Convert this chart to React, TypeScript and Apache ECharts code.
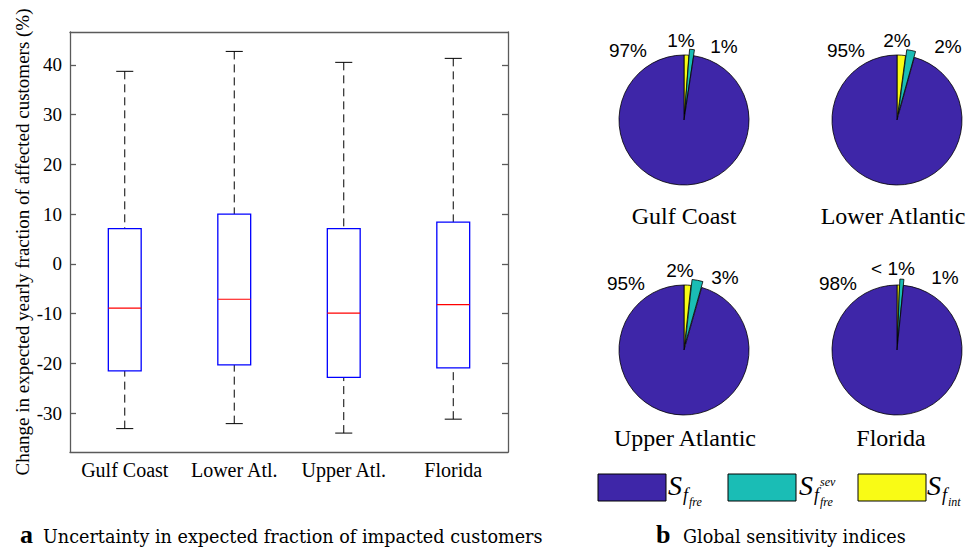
import React, { useEffect, useRef } from "react";
import * as echarts from "echarts";

// ---------- data ----------
const regions = ["Gulf Coast", "Lower Atl.", "Upper Atl.", "Florida"];
const whiskerLow = [-33.1, -32.1, -34.0, -31.2];
const quart1 = [-21.5, -20.3, -22.8, -20.9];
const medians = [-8.9, -7.1, -9.9, -8.2];
const quart3 = [7.1, 10.0, 7.1, 8.4];
const whiskerHigh = [38.7, 42.7, 40.5, 41.3];
const yTicks = [-30, -20, -10, 0, 10, 20, 30, 40];
const yMin = -37.8;
const yMax = 46.6;
const yTitle = "Change in expected yearly fraction of affected customers (%)";

const pieTitles = ["Gulf Coast", "Lower Atlantic", "Upper Atlantic", "Florida"];
const sInt = [1.2, 2.1, 1.7, 0.6];
const sSev = [1.2, 2.2, 2.7, 1.0];
const sFre = [97.6, 95.7, 95.6, 98.4];
const labelFre = ["97%", "95%", "95%", "98%"];
const labelInt = ["1%", "2%", "2%", "< 1%"];
const labelSev = ["1%", "2%", "3%", "1%"];

const captionA = "Uncertainty in expected fraction of impacted customers";
const captionB = "Global sensitivity indices";

// ---------- style / layout ----------
const BLUE = "#3E26A8";
const TEAL = "#1ABDB5";
const YELLOW = "#F9FB15";
const SERIF = "'Liberation Serif', 'Times New Roman', serif";
const SANS = "'Liberation Sans', Arial, sans-serif";
const CAPTION = "'DejaVu Serif', serif";
const FRAME = "#5a5a5a";

const pieCenters = [
  [684, 120],
  [897, 120],
  [684, 350],
  [897, 350],
];
const pieTitlePos = [
  [684, 216],
  [893, 216],
  [685, 438],
  [891, 438],
];
const labelPosFre = [
  [628, 50],
  [846, 50],
  [626, 283],
  [838, 283],
];
const labelPosInt = [
  [681, 40],
  [897, 40],
  [680, 270],
  [893, 268],
];
const labelPosSev = [
  [724, 46],
  [948, 46],
  [725, 277],
  [945, 277],
];

function buildOption(): any {
  const graphic: any[] = [];
  const txt = (
    text: string,
    x: number,
    y: number,
    size: number,
    family: string,
    opts: { style?: string; weight?: string; align?: string } = {}
  ) => ({
    type: "text",
    x,
    y,
    silent: true,
    style: {
      text,
      font: `${opts.style || "normal"} ${opts.weight || "normal"} ${size}px ${family}`,
      fontSize: size,
      fontFamily: family,
      fontStyle: opts.style || "normal",
      fontWeight: opts.weight || "normal",
      fill: "#000",
      align: opts.align || "center",
      verticalAlign: "middle",
    },
  });

  pieTitles.forEach((t, i) => {
    graphic.push(txt(t, pieTitlePos[i][0], pieTitlePos[i][1], 24, SERIF));
    graphic.push(txt(labelFre[i], labelPosFre[i][0], labelPosFre[i][1], 19, SANS));
    graphic.push(txt(labelInt[i], labelPosInt[i][0], labelPosInt[i][1], 19, SANS));
    graphic.push(txt(labelSev[i], labelPosSev[i][0], labelPosSev[i][1], 19, SANS));
  });

  // legend
  const legendColors = [BLUE, TEAL, YELLOW];
  const legendRectX = [598, 728, 858];
  const sX = [668, 799, 927];
  const subs = ["fre", "fre", "int"];
  legendColors.forEach((c, i) => {
    graphic.push({
      type: "rect",
      silent: true,
      shape: { x: legendRectX[i], y: 474, width: 68, height: 27 },
      style: { fill: c, stroke: "#000", lineWidth: 1 },
    });
    graphic.push(txt("S", sX[i], 485, 28, SERIF, { style: "italic", align: "left" }));
    graphic.push(txt("f", sX[i] + 15, 495, 18, SERIF, { style: "italic", align: "left" }));
    graphic.push(txt(subs[i], sX[i] + 21, 502, 12, SERIF, { style: "italic", align: "left" }));
    if (i === 1) {
      graphic.push(txt("sev", sX[i] + 21, 482, 12, SERIF, { style: "italic", align: "left" }));
    }
  });

  // captions
  graphic.push(txt("a", 20, 534, 26, SERIF, { weight: "bold", align: "left" }));
  graphic.push(txt(captionA, 43, 537, 17.6, CAPTION, { align: "left" }));
  graphic.push(txt("b", 656, 534, 26, SERIF, { weight: "bold", align: "left" }));
  graphic.push(txt(captionB, 683, 537, 17.6, CAPTION, { align: "left" }));

  const axisLineStyle = { color: FRAME, width: 1.3 };

  const boxData = regions.map((_, i) => [
    i,
    whiskerLow[i],
    quart1[i],
    medians[i],
    quart3[i],
    whiskerHigh[i],
  ]);

  const pies = pieTitles.map((t, i) => ({
    type: "pie",
    name: t,
    center: pieCenters[i],
    radius: 65,
    startAngle: 90,
    clockwise: true,
    selectedMode: "multiple",
    selectedOffset: 6,
    silent: true,
    label: { show: false },
    labelLine: { show: false },
    emphasis: { disabled: true },
    itemStyle: { borderColor: "#000", borderWidth: 0.8 },
    data: [
      { name: "S_f_int", value: sInt[i], itemStyle: { color: YELLOW } },
      { name: "S_f_fre_sev", value: sSev[i], selected: true, itemStyle: { color: TEAL } },
      { name: "S_f_fre", value: sFre[i], itemStyle: { color: BLUE } },
    ],
  }));

  const xAxisCommon = {
    type: "category",
    data: regions,
    axisLine: { onZero: false, lineStyle: axisLineStyle },
    axisTick: {
      inside: true,
      alignWithLabel: true,
      length: 6,
      lineStyle: axisLineStyle,
    },
    splitLine: { show: false },
  };

  return {
    animation: false,
    backgroundColor: "#fff",
    grid: [{ left: 70, top: 32, width: 438, height: 420 }],
    xAxis: [
      {
        ...xAxisCommon,
        position: "bottom",
        axisLabel: {
          interval: 0,
          hideOverlap: false,
          color: "#000",
          fontFamily: SERIF,
          fontSize: 20,
          margin: 8,
        },
      },
      {
        ...xAxisCommon,
        position: "top",
        axisLabel: { show: false },
      },
    ],
    yAxis: [
      {
        type: "value",
        min: yMin,
        max: yMax,
        position: "left",
        axisLine: { show: true, onZero: false, lineStyle: axisLineStyle },
        axisTick: {
          show: true,
          inside: true,
          length: 6,
          customValues: yTicks,
          lineStyle: axisLineStyle,
        },
        axisLabel: {
          customValues: yTicks,
          color: "#000",
          fontFamily: SERIF,
          fontSize: 19,
          margin: 8,
        },
        splitLine: { show: false },
        name: yTitle,
        nameLocation: "middle",
        nameGap: 38,
        nameTextStyle: { color: "#000", fontFamily: SERIF, fontSize: 19 },
      },
      {
        type: "value",
        min: yMin,
        max: yMax,
        position: "right",
        axisLine: { show: true, onZero: false, lineStyle: axisLineStyle },
        axisTick: {
          show: true,
          inside: true,
          length: 6,
          customValues: yTicks,
          lineStyle: axisLineStyle,
        },
        axisLabel: { show: false },
        splitLine: { show: false },
      },
    ],
    series: [
      {
        type: "custom",
        name: "Boxplot",
        xAxisIndex: 0,
        yAxisIndex: 0,
        silent: true,
        encode: { x: 0, y: [1, 2, 3, 4, 5] },
        data: boxData,
        renderItem: (params: any, api: any) => {
          const x = api.value(0);
          const pLow = api.coord([x, api.value(1)]);
          const pQ1 = api.coord([x, api.value(2)]);
          const pMed = api.coord([x, api.value(3)]);
          const pQ3 = api.coord([x, api.value(4)]);
          const pHigh = api.coord([x, api.value(5)]);
          const band = api.size([1, 0])[0];
          const halfBox = band * 0.15;
          const halfCap = band * 0.078;
          const cx = pMed[0];
          const dash = { stroke: "#000", lineWidth: 1, lineDash: [8, 5] };
          const solid = { stroke: "#000", lineWidth: 1 };
          return {
            type: "group",
            children: [
              {
                type: "line",
                shape: { x1: cx, y1: pHigh[1], x2: cx, y2: pQ3[1] },
                style: dash,
              },
              {
                type: "line",
                shape: { x1: cx, y1: pLow[1], x2: cx, y2: pQ1[1] },
                style: dash,
              },
              {
                type: "line",
                shape: { x1: cx - halfCap, y1: pHigh[1], x2: cx + halfCap, y2: pHigh[1] },
                style: solid,
              },
              {
                type: "line",
                shape: { x1: cx - halfCap, y1: pLow[1], x2: cx + halfCap, y2: pLow[1] },
                style: solid,
              },
              {
                type: "rect",
                shape: {
                  x: cx - halfBox,
                  y: pQ3[1],
                  width: halfBox * 2,
                  height: pQ1[1] - pQ3[1],
                },
                style: { fill: "#fff", stroke: "#0000FF", lineWidth: 1.3 },
              },
              {
                type: "line",
                shape: { x1: cx - halfBox, y1: pMed[1], x2: cx + halfBox, y2: pMed[1] },
                style: { stroke: "#FF0000", lineWidth: 1.2 },
              },
            ],
          };
        },
      },
      ...pies,
    ],
    graphic,
  };
}

export default function App() {
  const ref = useRef<HTMLDivElement>(null);
  useEffect(() => {
    if (!ref.current) return;
    const chart = echarts.init(ref.current, null, { renderer: "svg" });
    chart.setOption(buildOption());
    return () => chart.dispose();
  }, []);
  return (
    <div
      ref={ref}
      style={{
        position: "absolute",
        left: 0,
        top: 0,
        width: 978,
        height: 553,
        background: "#fff",
      }}
    />
  );
}
